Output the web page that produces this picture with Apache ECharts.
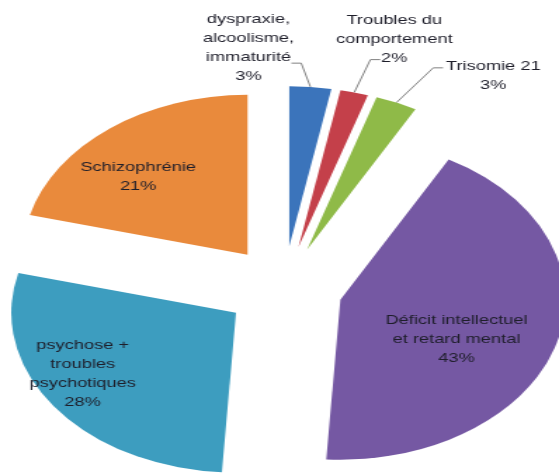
<!DOCTYPE html>
<html>
<head>
<meta charset="utf-8">
<script src="https://cdn.jsdelivr.net/npm/echarts@6/dist/echarts.min.js"></script>
<style>
  html, body { margin: 0; padding: 0; background: #fff; overflow: hidden; }
  /* le camembert d'origine est étiré en largeur : on dessine un cercle puis on étire */
  #chart { width: 398px; height: 474px; transform: scaleX(1.4045); transform-origin: 0 0; }
</style>
</head>
<body>
<div id="chart"></div>
<script>
// données
var categories = ['dyspraxie, alcoolisme, immaturité', 'Troubles du comportement', 'Trisomie 21',
    'Déficit intellectuel et retard mental', 'psychose + troubles psychotiques', 'Schizophrénie'];
var labelTexts = ['dyspraxie,\nalcoolisme,\nimmaturité', 'Troubles du\ncomportement', 'Trisomie 21',
    'Déficit intellectuel\net retard mental', 'psychose +\ntroubles\npsychotiques', 'Schizophrénie'];
var values = [3, 2, 3, 43, 28, 21];

var colors = ['#3b74bb', '#c4404a', '#8fba48', '#7558a3', '#3d9dbf', '#e98a3c'];

// décalage des étiquettes (repère avant étirement)
var labelShift = { 0: [-58, -29], 1: [13, -43], 2: [52, -18], 3: [3, 17], 4: [-42, 12], 5: [-27, -12] };
// où le trait de rappel touche l'étiquette : côté, hauteur relative
var anchorSpec = { 0: ['right', 0.7], 1: ['mid', 0.85], 2: ['left', 0.3] };

var myChart = echarts.init(document.getElementById('chart'));

var pieData = values.map(function (v, i) {
    var inside = i >= 3;
    return {
        name: categories[i],
        value: v,
        selected: true,
        itemStyle: { color: colors[i] },
        label: { position: inside ? 'inside' : 'outside' },
        labelLine: { show: !inside }
    };
});

var option = {
    animation: false,
    series: [{
        type: 'pie',
        center: [202, 288],
        radius: 160,
        startAngle: 90,
        clockwise: true,
        selectedMode: 'multiple',
        selectedOffset: 42,
        avoidLabelOverlap: false,
        emphasis: { scale: false },
        label: {
            color: '#1e1e2a',
            fontFamily: 'Liberation Sans',
            fontSize: 13,
            lineHeight: 19,
            align: 'center',
            formatter: function (p) {
                return labelTexts[p.dataIndex] + '\n' + p.value + '%';
            }
        },
        labelLine: {
            length: 10,
            length2: 8,
            lineStyle: { color: '#808080', width: 1 }
        },
        labelLayout: function (params) {
            var i = params.dataIndex;
            var s = labelShift[i];
            var out = { dx: s[0], dy: s[1], align: 'center' };
            var a = anchorSpec[i];
            if (a && params.labelLinePoints) {
                var r = params.labelRect;
                var left = r.x + s[0] - r.width / 2;
                var top = r.y + s[1];
                var ax = a[0] === 'right' ? left + r.width - 2 : (a[0] === 'left' ? left - 2 : left + r.width / 2 - 10);
                var ay = top + r.height * a[1];
                var ex = a[0] === 'right' ? ax + 7 : ax - 7;
                out.labelLinePoints = [params.labelLinePoints[0], [ex, ay], [ax, ay]];
            }
            return out;
        },
        data: pieData
    }]
};
myChart.setOption(option);
</script>
</body>
</html>
